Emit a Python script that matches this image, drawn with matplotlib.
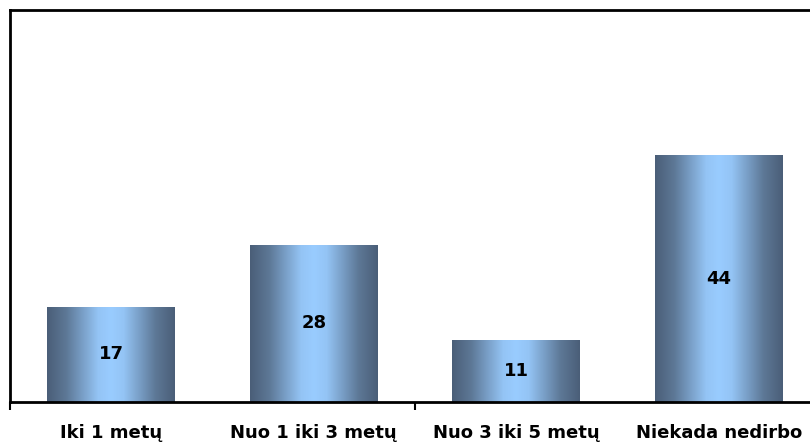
import numpy as np
import matplotlib
matplotlib.use('Agg')
import matplotlib.pyplot as plt
from matplotlib.colors import LinearSegmentedColormap

categories = ['Iki 1 metų', 'Nuo 1 iki 3 metų', 'Nuo 3 iki 5 metų', 'Niekada nedirbo']
values = [17, 28, 11, 44]

fig = plt.figure(figsize=(8.1, 4.42), dpi=100)
ax = fig.add_axes([10/810, 40/442, 810/810, 392.5/442])

x = np.arange(len(categories))
bars = ax.bar(x, values, width=0.63, color='none', edgecolor='none', zorder=2)

# horizontal shading: dark edges, light blue centre
cmap = LinearSegmentedColormap.from_list(
    'shade', [(0.0, '#4a5e78'), (0.15, '#5d7896'), (0.4, '#94c4f5'), (0.5, '#99ccff'),
              (0.6, '#94c4f5'), (0.85, '#5d7896'), (1.0, '#4a5e78')])
grad = np.linspace(0, 1, 256).reshape(1, -1)
for b in bars:
    x0, y0 = b.get_x(), b.get_y()
    w, h = b.get_width(), b.get_height()
    im = ax.imshow(grad, cmap=cmap, aspect='auto', extent=(x0, x0 + w, y0, y0 + h),
                   interpolation='bilinear', zorder=2)
    im.set_clip_path(b)
    ax.text(x0 + w/2, y0 + h/2, str(int(h)), ha='center', va='center',
            fontsize=13, fontweight='bold', color='black', zorder=3)

ax.set_xlim(-0.5, 3.5)
ax.set_ylim(0, 70)

for s in ['left', 'top', 'bottom']:
    ax.spines[s].set_linewidth(2)
    ax.spines[s].set_color('black')
ax.spines['right'].set_visible(False)

ax.set_yticks([])
ax.set_xticks(x)
ax.set_xticklabels(categories, fontsize=13, fontweight='bold')
ax.tick_params(axis='x', which='major', length=0, pad=16)
ax.set_xticks([-0.5, 1.5], minor=True)
ax.tick_params(axis='x', which='minor', length=6, width=1.5, direction='out')

fig.savefig('out.png', dpi=100)
